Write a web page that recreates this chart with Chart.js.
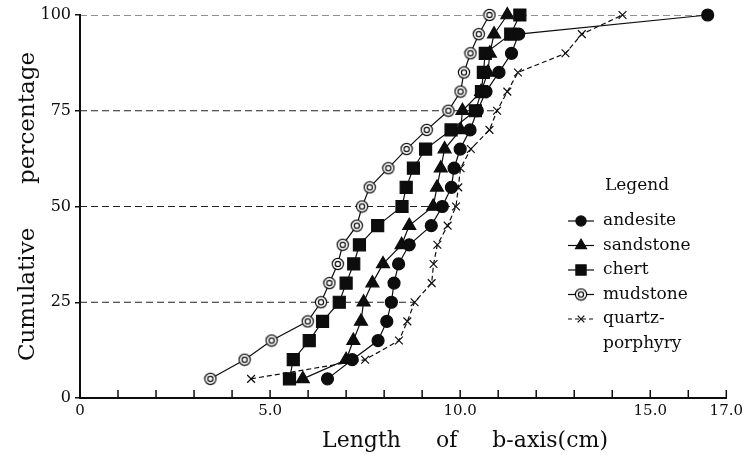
<!DOCTYPE html>
<html>
<head>
<meta charset="utf-8">
<script src="https://cdn.jsdelivr.net/npm/chart.js@4/dist/chart.umd.min.js"></script>
<style>
  html, body { margin: 0; padding: 0; background: #fff; }
</style>
</head>
<body>
<canvas id="myChart" width="747" height="462"></canvas>
<script>
// cumulative percentage levels shared by every rock type
const percent = [5, 10, 15, 20, 25, 30, 35, 40, 45, 50, 55, 60, 65, 70, 75, 80, 85, 90, 95, 100]

// length of b-axis (cm) for each level
const andesite = [6.51, 7.16, 7.84, 8.07, 8.19, 8.26, 8.38, 8.66, 9.24, 9.53, 9.77, 9.84, 10.0, 10.26, 10.45, 10.68, 11.02, 11.35, 11.54, 16.51]
const sandstone = [5.86, 7.00, 7.19, 7.39, 7.46, 7.69, 7.97, 8.46, 8.66, 9.29, 9.39, 9.49, 9.59, 10.01, 10.06, 10.55, 10.73, 10.78, 10.89, 11.24]
const chert = [5.51, 5.61, 6.03, 6.38, 6.82, 7.00, 7.20, 7.35, 7.83, 8.47, 8.58, 8.77, 9.09, 9.76, 10.40, 10.56, 10.61, 10.66, 11.33, 11.57]
const mudstone = [3.43, 4.33, 5.04, 5.99, 6.34, 6.56, 6.78, 6.91, 7.28, 7.42, 7.62, 8.11, 8.59, 9.12, 9.69, 10.01, 10.10, 10.27, 10.49, 10.77]
const quartzPorphyry = [4.50, 7.50, 8.39, 8.61, 8.80, 9.25, 9.30, 9.40, 9.67, 9.89, 9.95, 10.01, 10.28, 10.77, 10.97, 11.24, 11.52, 12.77, 13.20, 14.27]

const xTickLabels = [0, 5, 10, 15, 17]
const yTicks = [0, 25, 50, 75, 100]
const refLevels = [25, 50, 75, 100]

const ink = '#0d0d0d'
const serif = '"DejaVu Serif", "Liberation Serif", serif'

// double ring marker for mudstone
const ring = document.createElement('canvas')
ring.width = 14
ring.height = 14
const rc = ring.getContext('2d')
rc.strokeStyle = ink
rc.fillStyle = '#fff'
rc.lineWidth = 1.2
rc.beginPath(); rc.arc(7, 7, 5.6, 0, Math.PI * 2); rc.fill(); rc.stroke()
rc.beginPath(); rc.arc(7, 7, 2.6, 0, Math.PI * 2); rc.stroke()

const toPoints = values => values.map((v, i) => ({ x: v, y: percent[i] }))

const series = [
  { label: 'andesite', values: andesite, pointStyle: 'circle', radius: 6, dash: [] },
  { label: 'sandstone', values: sandstone, pointStyle: 'triangle', radius: 7.5, dash: [] },
  { label: 'chert', values: chert, pointStyle: 'rect', radius: 8.5, dash: [] },
  { label: 'mudstone', values: mudstone, pointStyle: ring, radius: 7, dash: [] },
  { label: 'quartz-porphyry', values: quartzPorphyry, pointStyle: 'crossRot', radius: 5.5, dash: [5, 3] },
]

const all = [andesite, sandstone, chert, mudstone, quartzPorphyry]
const refDatasets = refLevels.map(level => {
  const idx = percent.indexOf(level)
  const end = Math.max(...all.map(s => s[idx]))
  return {
    label: 'ref' + level,
    data: [{ x: 0, y: level }, { x: end, y: level }],
    showLine: true,
    borderColor: '#222',
    borderWidth: 1.1,
    borderDash: [7, 4],
    pointRadius: 0,
    order: 10,
  }
})

const dataDatasets = series.map(s => ({
  label: s.label,
  data: toPoints(s.values),
  showLine: true,
  borderColor: ink,
  backgroundColor: ink,
  borderWidth: 1.2,
  borderDash: s.dash,
  pointStyle: s.pointStyle,
  pointRadius: s.radius,
  pointHoverRadius: s.radius,
  pointBorderWidth: 1.2,
  pointBorderColor: ink,
  pointBackgroundColor: ink,
  clip: false,
  order: 1,
}))

// tick marks on the x axis point up into the plot
const insideTicks = {
  id: 'insideTicks',
  afterDatasetsDraw(chart) {
    const { ctx, scales: { x } } = chart
    ctx.save()
    ctx.strokeStyle = ink
    ctx.lineWidth = 1.5
    for (let v = 0; v <= 17; v++) {
      const px = x.getPixelForValue(v)
      ctx.beginPath()
      ctx.moveTo(px, x.top)
      ctx.lineTo(px, x.top - 8)
      ctx.stroke()
    }
    ctx.restore()
  }
}

const sideLegend = {
  id: 'sideLegend',
  afterDraw(chart) {
    const ctx = chart.ctx
    ctx.save()
    ctx.fillStyle = ink
    ctx.textBaseline = 'middle'

    // x axis title sits right of centre in the original
    ctx.font = '22px ' + serif
    ctx.textAlign = 'center'
    ctx.fillText('Length     of     b-axis(cm)', 465, 441)

    ctx.font = '17px ' + serif
    ctx.fillText('Legend', 637, 186)
    ctx.textAlign = 'left'
    series.forEach((s, i) => {
      const y = 221 + i * 24.5
      ctx.strokeStyle = ink
      ctx.lineWidth = 1.2
      ctx.setLineDash(s.dash.length ? [4, 3] : [])
      ctx.beginPath()
      ctx.moveTo(568, y)
      ctx.lineTo(594, y)
      ctx.stroke()
      ctx.setLineDash([])
      ctx.fillStyle = ink
      Chart.helpers.drawPoint(ctx, {
        pointStyle: s.pointStyle,
        radius: s.radius * 0.85,
        rotation: 0,
        borderWidth: 1.2,
      }, 581, y)
      ctx.fillStyle = ink
      if (s.label === 'quartz-porphyry') {
        ctx.fillText('quartz-', 603, y)
        ctx.fillText('porphyry', 603, y + 24.5)
      } else {
        ctx.fillText(s.label, 603, y)
      }
    })
    ctx.restore()
  }
}

const ctx = document.getElementById('myChart').getContext('2d')
const chart = new Chart(ctx, {
  type: 'scatter',
  data: { datasets: [...dataDatasets, ...refDatasets] },
  options: {
    responsive: false,
    animation: false,
    layout: { padding: { top: 15, right: 19 } },
    plugins: {
      legend: { display: false },
      tooltip: { enabled: false },
    },
    scales: {
      x: {
        type: 'linear',
        min: 0,
        max: 17,
        afterFit: s => { s.height = 64 },
        ticks: {
          stepSize: 1,
          autoSkip: false,
          maxRotation: 0,
          color: ink,
          padding: 4,
          font: { family: serif, size: 15 },
          callback: v => {
            const n = Math.round(v)
            if (!xTickLabels.includes(n)) return ''
            return n === 0 ? '0' : n.toFixed(1)
          },
        },
        grid: { display: false, drawTicks: false },
        border: { color: ink, width: 2 },
      },
      y: {
        min: 0,
        max: 100,
        afterFit: s => { s.width = 80 },
        afterBuildTicks: s => { s.ticks = yTicks.map(v => ({ value: v })) },
        ticks: {
          color: ink,
          padding: 4,
          font: { family: serif, size: 16 },
        },
        grid: { drawOnChartArea: false, tickLength: 5, color: ink, lineWidth: 1.5 },
        border: { color: ink, width: 2 },
        title: {
          display: true,
          text: 'Cumulative      percentage',
          color: ink,
          font: { family: serif, size: 23 },
          padding: { top: 14 },
        },
      },
    },
  },
  plugins: [insideTicks, sideLegend],
})
</script>
</body>
</html>
